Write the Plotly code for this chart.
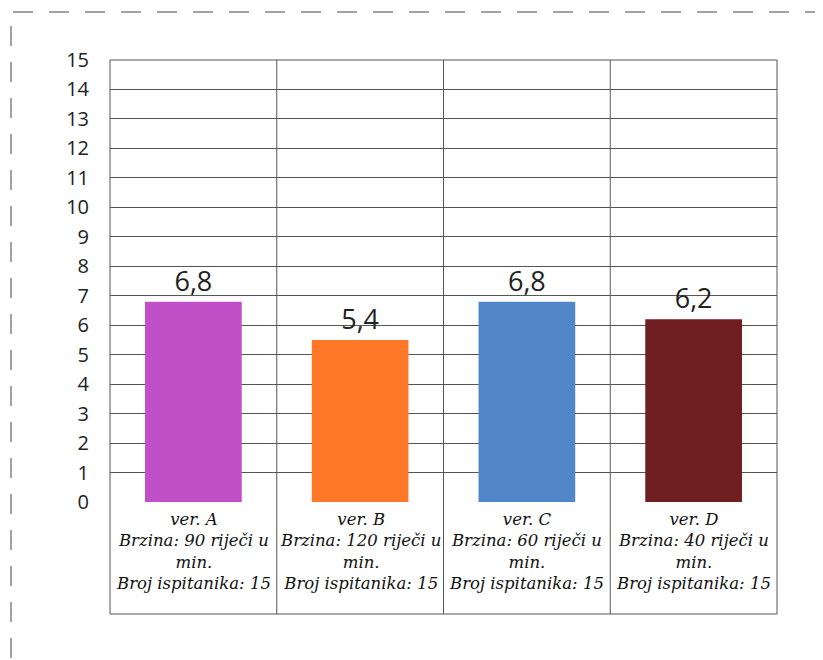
import plotly.graph_objects as go

categories = ["ver. A", "ver. B", "ver. C", "ver. D"]
speeds = ["Brzina: 90 riječi u", "Brzina: 120 riječi u", "Brzina: 60 riječi u", "Brzina: 40 riječi u"]
respondents = ["Broj ispitanika: 15"] * 4
values = [6.8, 5.5, 6.8, 6.2]
value_labels = ["6,8", "5,4", "6,8", "6,2"]
colors = ["#C150C8", "#FF7828", "#5187C8", "#701E21"]
y_ticks = list(range(0, 16))

OFF = 8  # page body margin
W, H = 823 - OFF, 660 - OFF
L, R, T, B = 110 - OFF, 46, 60 - OFF, 158
pw, ph = W - L - R, H - T - B

fig = go.Figure(go.Bar(
    x=list(range(len(categories))), y=values,
    marker=dict(color=colors, line=dict(width=0)),
    width=0.58,
    text=value_labels, textposition="outside",
    textfont=dict(family="Open Sans", size=27, color="#222"),
    cliponaxis=False,
))

shapes = []
n = len(categories)
tb = -(614 - 502) / ph
for i in range(n + 1):
    xp = i / n
    shapes.append(dict(type="line", xref="paper", yref="paper", x0=xp, x1=xp,
                       y0=tb, y1=1, line=dict(color="#555", width=1)))
shapes.append(dict(type="line", xref="paper", yref="paper", x0=0, x1=1,
                   y0=tb, y1=tb, line=dict(color="#555", width=1)))
shapes.append(dict(type="line", xref="paper", yref="paper", x0=0, x1=1,
                   y0=1, y1=1, line=dict(color="#555", width=1)))
# dashed outer frame
fx0, fy0 = 11 - OFF, 12 - OFF
shapes.append(dict(type="rect", xref="paper", yref="paper",
                   x0=(fx0 - L) / pw, x1=(W + 30 - L) / pw,
                   y0=-(H + 30 - (T + ph)) / ph, y1=(T + ph - fy0) / ph,
                   line=dict(color="#444", width=1, dash="20px,16px"), layer="below"))

annotations = []
for i in range(n):
    txt = (f"<i>{categories[i]}</i><br><i>{speeds[i]}</i><br><i>min.</i><br><i>{respondents[i]}</i>")
    annotations.append(dict(x=i, xref="x", y=-(508 - 502) / ph, yref="paper", text=txt,
                            showarrow=False, yanchor="top", xanchor="center",
                            font=dict(family="DejaVu Serif", size=16.5, color="#111"),
                            align="center"))

fig.update_layout(
    width=W, height=H,
    margin=dict(l=L, r=R, t=T, b=B),
    paper_bgcolor="white", plot_bgcolor="white",
    showlegend=False,
    xaxis=dict(range=[-0.5, n - 0.5], showticklabels=False, showgrid=False, zeroline=False,
               ticks=""),
    yaxis=dict(range=[0, 15], tickvals=y_ticks, showgrid=True, gridcolor="#555", gridwidth=1,
               zeroline=False, showline=False, ticks="",
               tickfont=dict(family="Open Sans", size=20, color="#222"), ticklabelstandoff=20),
    shapes=shapes,
    annotations=annotations,
)

fig.write_html("out.html")
